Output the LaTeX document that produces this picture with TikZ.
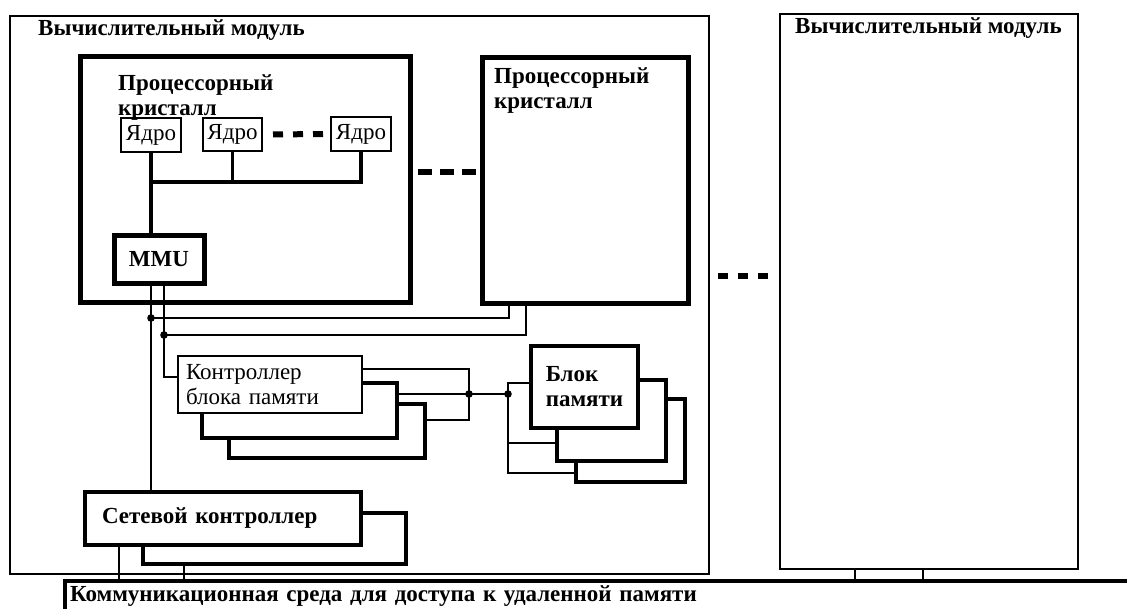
\documentclass[tikz,border=0pt]{standalone}
\usepackage{fontspec}
\setmainfont{Liberation Serif}
\usetikzlibrary{positioning}
\newcommand\diagfont{\fontsize{23}{25}\selectfont}

\begin{document}
\begin{tikzpicture}[x=1pt, y=-1pt,
    sz/.style 2 args={minimum width=#1pt, minimum height=#2pt},
    modbox/.style={draw, line width=2.8pt, inner sep=0pt, outer sep=0pt},
    procbox/.style={draw, line width=5pt, inner sep=0pt, outer sep=0pt},
    corebox/.style={draw, line width=2.6pt, inner sep=0pt, outer sep=0pt, font=\diagfont},
    mmubox/.style={draw, line width=5pt, inner sep=0pt, outer sep=0pt, font=\diagfont\bfseries},
    ctrlbox/.style={draw, line width=2pt, fill=white, inner sep=0pt, outer sep=0pt, font=\diagfont},
    copybox/.style={draw, line width=4pt, fill=white, inner sep=0pt, outer sep=0pt},
    membox/.style={draw, line width=4.5pt, fill=white, inner sep=0pt, outer sep=0pt, font=\diagfont\bfseries},
    netbox/.style={draw, line width=4.5pt, fill=white, inner sep=0pt, outer sep=0pt, font=\diagfont\bfseries},
    commbox/.style={inner sep=0pt, outer sep=0pt, font=\diagfont\bfseries},
    lbl/.style={inner sep=0pt, font=\diagfont\bfseries, align=left},
    wire/.style={line width=2.4pt},
    bus/.style={line width=3.2pt},
    ell/.style={line width=6pt, dash pattern=on 10pt off 10pt},
]
\useasboundingbox (0,0) rectangle (1127,608);

% === Computing modules ===
\node[modbox, sz={699}{558}] (mod1) at (359.5,295) {};
\node[modbox, sz={298}{555}] (mod2) at (929,291.5) {};
\node[lbl, anchor=west] (mod1lbl) at (38,30) {Вычислительный модуль};
\node[lbl, anchor=west] (mod2lbl) at (795,28) {Вычислительный модуль};

% === Processor crystals ===
\node[procbox, sz={330}{246}] (proc1) at (245,179) {};
\node[procbox, sz={206}{246}] (proc2) at (585,180) {};
\node[lbl, anchor=north west] (proc1lbl) at (118,74) {Процессорный\\кристалл};
\node[lbl, anchor=north west] (proc2lbl) at (494,67) {Процессорный\\кристалл};

% === Cores and MMU ===
\node[corebox, sz={60}{34}] (core1) at (151,135) {Ядро};
\node[corebox, sz={59}{33}] (core2) at (232.5,134.5) {Ядро};
\node[corebox, sz={60}{34}] (core3) at (361,134) {Ядро};
\node[mmubox, sz={90}{48}] (mmu) at (159,259) {MMU};

\coordinate (bus) at (151,182);
\draw[bus] (core1.south) -- (core1.south |- mmu.north);
\draw[bus] (core2.south) -- (core2.south |- bus);
\draw[bus] (core3.south) |- (bus);
\draw[ell, shorten <=11pt, shorten >=8pt] (core2) -- (core3);

% === Memory block controller (three copies) ===
\node[copybox, sz={196}{54}] (mctrl3) at (327,431) {};
\node[copybox, sz={195}{55}] (mctrl2) at (299.5,410.5) {};
\node[ctrlbox, sz={184}{57}, text width=168pt, align=left] (mctrl) at (270,384.5) {Контроллер\\блока памяти};

% === Memory blocks ===
\node[copybox, sz={109}{83}] (mem3) at (630.5,440.5) {};
\node[copybox, sz={109}{81}] (mem2) at (611.5,420.5) {};
\node[membox, sz={107}{82}, align=left] (mem) at (584.5,387) {Блок\\памяти};

% === Network controller ===
\node[copybox, sz={263}{51}, line width=4.5pt] (net2) at (274.5,538.5) {};
\node[netbox, sz={276}{53}, text width=242pt, align=left] (net) at (223,518.5) {Сетевой контроллер};

% === Communication medium ===
\node[commbox, anchor=north west, sz={1062}{31}, text width=1052pt, align=left] (comm) at (65,581) {Коммуникационная среда для доступа к удаленной памяти};
\draw[line width=3.5pt] (comm.south west) -- (comm.north west) -- (comm.north east);

% === Junctions ===
\coordinate (mA) at ([xshift=-8pt]mmu.south);
\coordinate (mB) at ([xshift=5pt]mmu.south);
\coordinate (jA) at (151,318);
\coordinate (jB) at (164,335);
\coordinate (jC) at (469,394);
\coordinate (jD) at (508,394);

% === Wires ===
\draw[wire] (mA) -- (mA |- net.north);
\draw[wire] (mB) |- ([yshift=7.5pt]mctrl.west);
\draw[wire] (jA) -| ([xshift=27pt]proc2.south west);
\draw[wire] (jB) -| ([xshift=44pt]proc2.south west);
\draw[wire] ([yshift=15.5pt]mctrl.east) -| (jC);
\draw[wire] ([yshift=11pt]mctrl3.east) -| (jC);
\draw[wire] ([yshift=16.5pt]mctrl2.east) -- (jC) -- (jD);
\draw[wire] (jD) |- ([yshift=4pt]mem.west);
\draw[wire] (jD) |- ([yshift=-22.5pt]mem2.west);
\draw[wire] (jD) |- ([yshift=-32.5pt]mem3.west);
\foreach \j in {jA,jB,jC,jD}
  \fill (\j) circle[radius=3.8pt];

\draw[wire] ([xshift=34pt]net.south west) -- ([xshift=34pt]net.south west |- comm.north);
\draw[wire] ([xshift=41pt]net2.south west) -- ([xshift=41pt]net2.south west |- comm.north);
\draw[wire] ([xshift=75pt]mod2.south west) -- ([xshift=75pt]mod2.south west |- comm.north);
\draw[wire] ([xshift=143pt]mod2.south west) -- ([xshift=143pt]mod2.south west |- comm.north);

% === Ellipses between crystals and modules ===
\draw[ell, shorten <=8pt, shorten >=6pt, dash pattern=on 14pt off 8pt] ([yshift=7pt]proc1.east) -- ([yshift=7pt]proc1.east -| proc2.west);
\draw[ell, shorten <=9pt, shorten >=12pt] ([yshift=19pt]mod1.east) -- ([yshift=19pt]mod1.east -| mod2.west);

\end{tikzpicture}
\end{document}
